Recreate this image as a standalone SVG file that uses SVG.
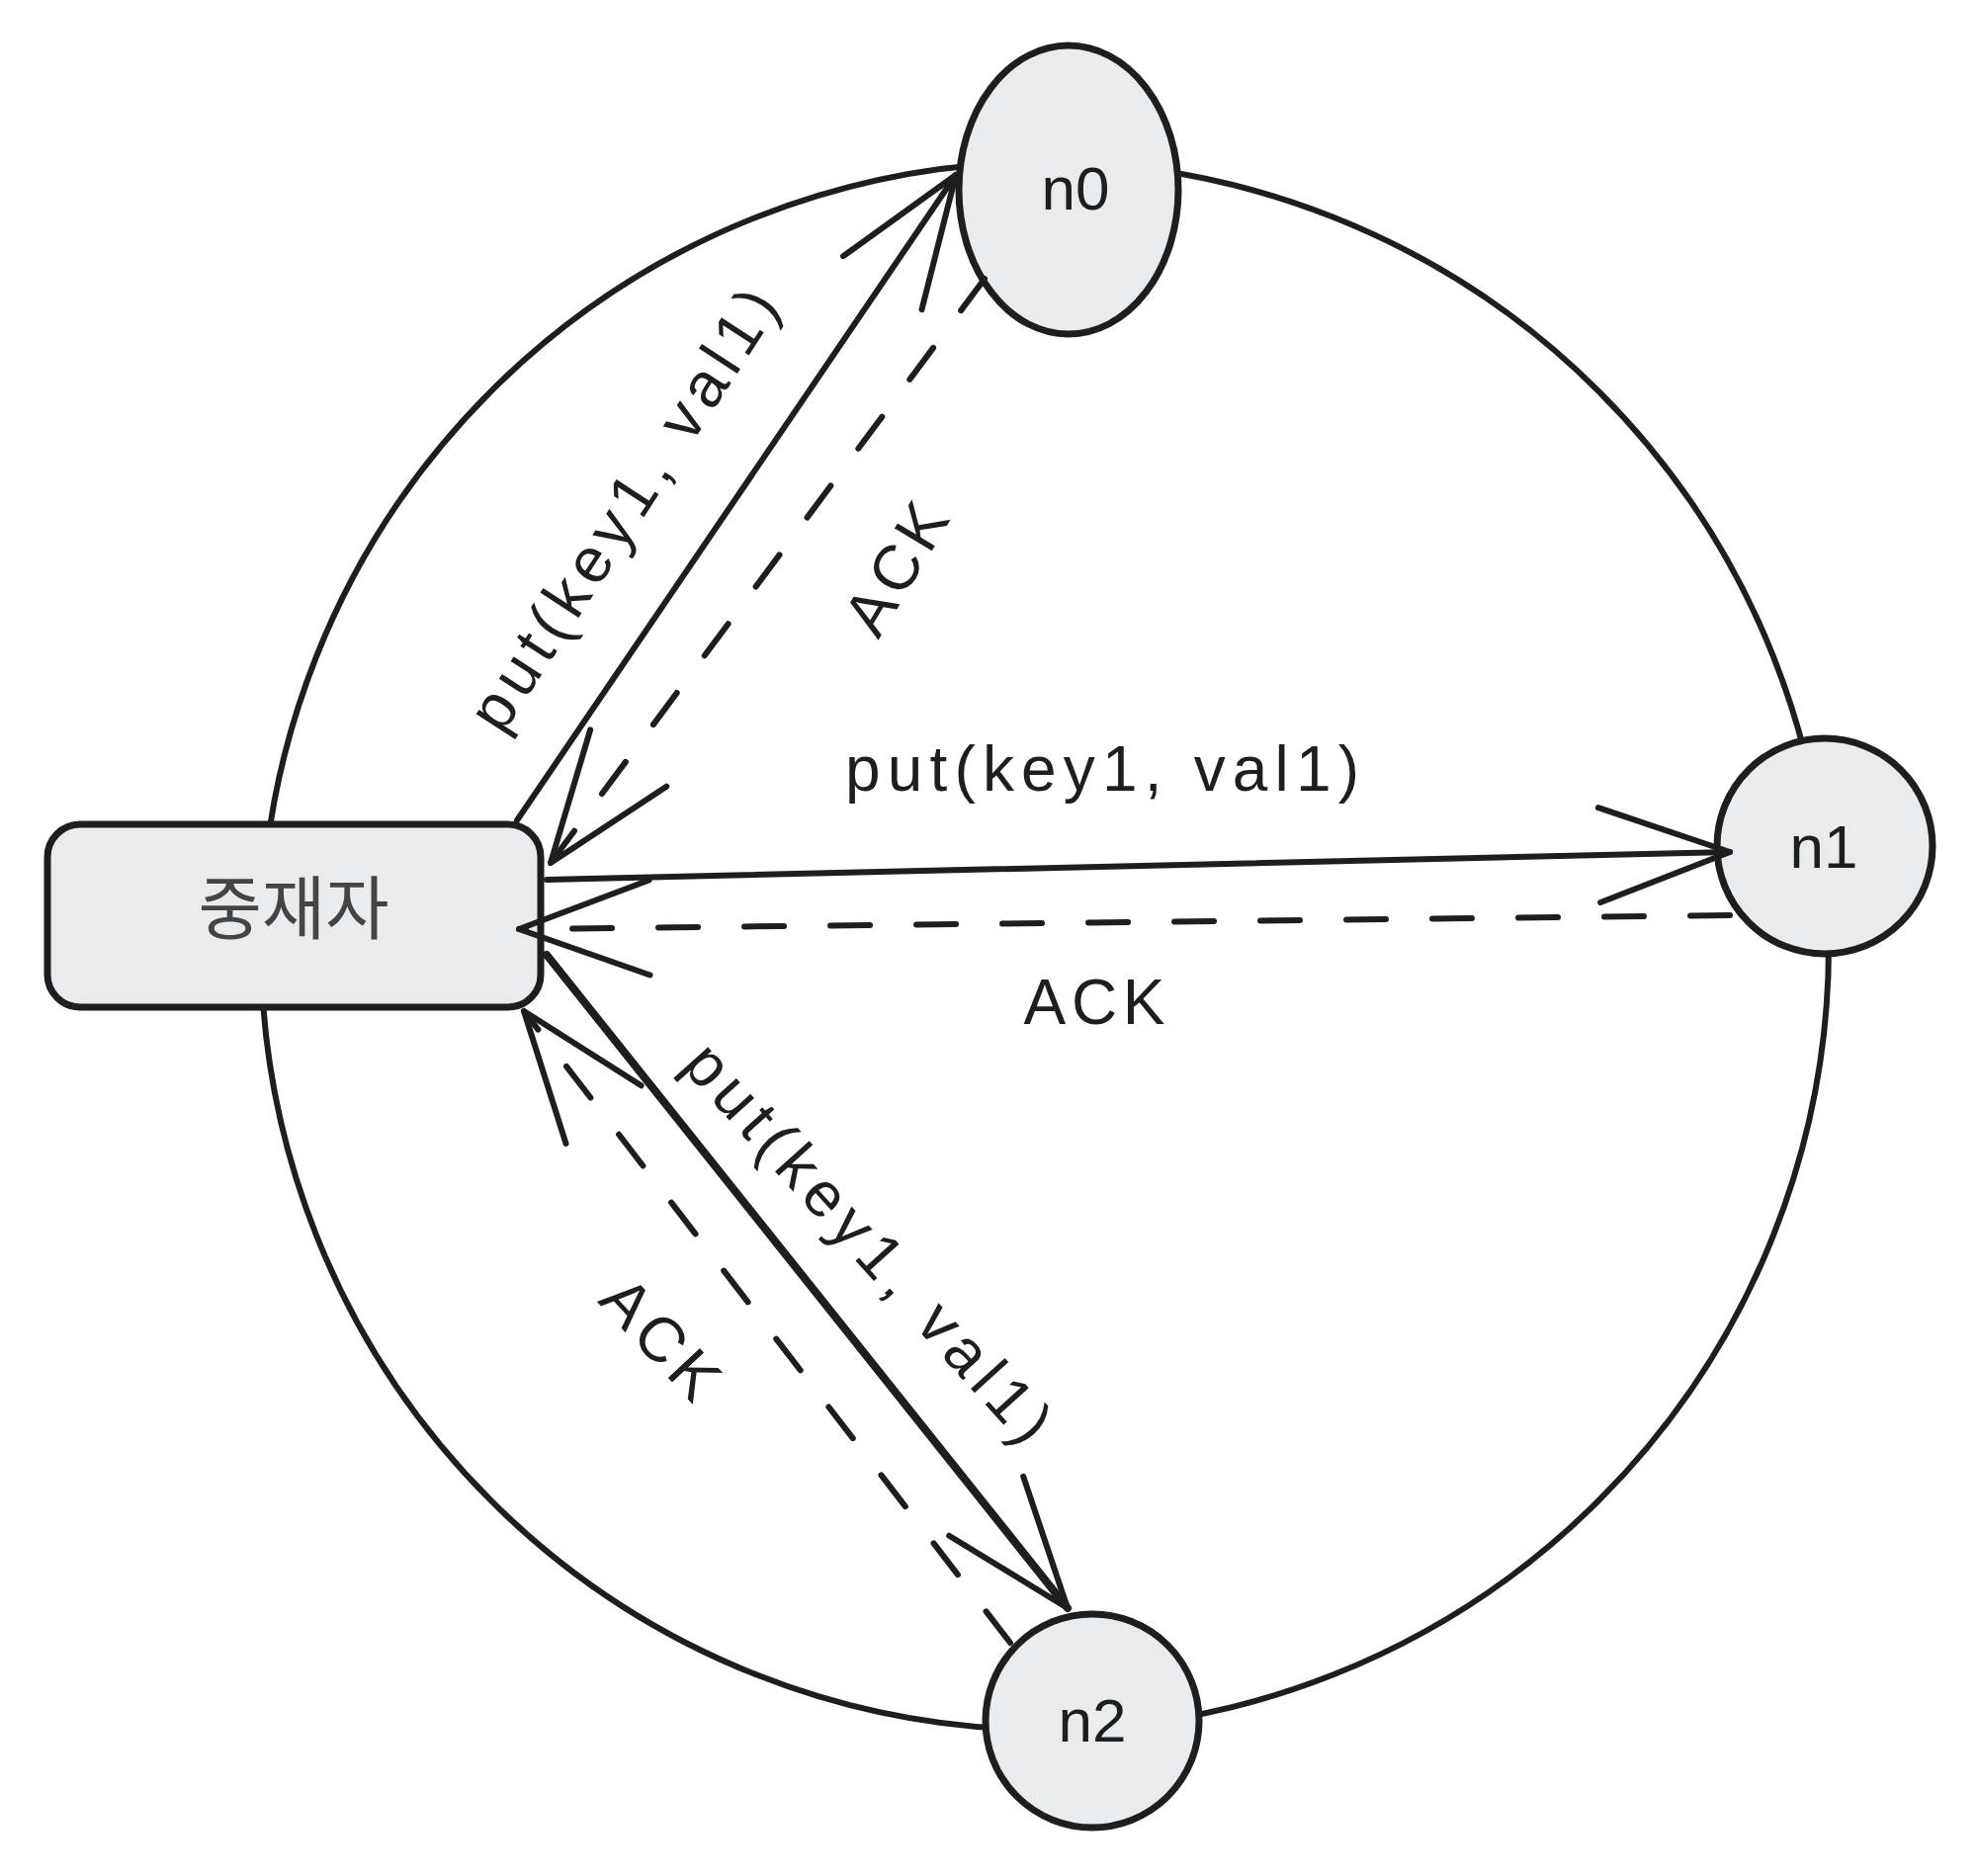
<svg xmlns="http://www.w3.org/2000/svg" width="2000" height="1898" viewBox="0 0 2000 1898">
  <defs>
    <style>
      .ring { fill: none; stroke: #1e1e1e; stroke-width: 6; }
      .node { fill: #e9ecef; stroke: #1e1e1e; stroke-width: 7; }
      .edge { fill: none; stroke: #1e1e1e; stroke-width: 6; stroke-linecap: round; }
      .thick { stroke-width: 8; }
      .dash { stroke-dasharray: 40 47; }
      .lbl { font-family: "Liberation Sans", "Noto Sans", sans-serif; font-size: 64px; fill: #1e1e1e; text-anchor: middle; }
      .nlbl { font-family: "Liberation Sans", "Noto Sans", sans-serif; font-size: 62px; fill: #1e1e1e; text-anchor: middle; }
      .klbl { font-family: "Noto Sans CJK KR", "Noto Sans", sans-serif; font-size: 70px; fill: #444444; text-anchor: middle; }
    </style>
    <marker id="arrow" markerUnits="userSpaceOnUse" viewBox="-150 -60 160 120" markerWidth="160" markerHeight="120" refX="0" refY="0" orient="auto">
      <path d="M -132 -48 L 0 0 L -132 48" fill="none" stroke="#1e1e1e" stroke-width="6" stroke-linecap="round" stroke-linejoin="round" stroke-dasharray="none"/>
    </marker>
  </defs>
  <rect width="2000" height="1898" fill="#ffffff"/>

  <g id="ring">
    <circle class="ring" cx="1057" cy="957" r="793"/>
  </g>

  <g id="node-mediator">
    <rect class="node" x="48" y="834" width="499" height="185" rx="33" ry="33"/>
    <text class="klbl" x="297" y="945">중재자</text>
  </g>
  <g id="node-n0">
    <ellipse class="node" cx="1081" cy="192" rx="111" ry="146"/>
    <text class="nlbl" x="1088" y="212">n0</text>
  </g>
  <g id="node-n1">
    <circle class="node" cx="1846" cy="856" r="109"/>
    <text class="nlbl" x="1845" y="878">n1</text>
  </g>
  <g id="node-n2">
    <circle class="node" cx="1105" cy="1741" r="108"/>
    <text class="nlbl" x="1105" y="1762">n2</text>
  </g>

  <g id="connectors">
    <path class="edge" d="M 523 830 L 967 177" marker-end="url(#arrow)"/>
    <path class="edge dash" d="M 996 282 L 557 873" marker-end="url(#arrow)"/>
    <path class="edge" d="M 553 890 L 1750 862" marker-end="url(#arrow)"/>
    <path class="edge dash" d="M 1750 926 L 525 940" marker-end="url(#arrow)"/>
    <path class="edge thick" d="M 553 966 L 1080 1627" marker-end="url(#arrow)"/>
    <path class="edge dash" d="M 1022 1662 L 530 1023" marker-end="url(#arrow)"/>
  </g>

  <g id="labels">
    <text class="lbl" transform="translate(630 515) rotate(-57)" dy="0.35em" textLength="518" lengthAdjust="spacing">put(key1, val1)</text>
    <text class="lbl" transform="translate(906 575) rotate(-59)" dy="0.35em" textLength="143" lengthAdjust="spacing">ACK</text>
    <text class="lbl" x="1115" y="800" textLength="520" lengthAdjust="spacing">put(key1, val1)</text>
    <text class="lbl" x="1107" y="1036" textLength="143" lengthAdjust="spacing">ACK</text>
    <text class="lbl" transform="translate(879 1257) rotate(48)" dy="0.35em" textLength="520" lengthAdjust="spacing">put(key1, val1)</text>
    <text class="lbl" transform="translate(669 1354) rotate(47)" dy="0.35em" textLength="143" lengthAdjust="spacing">ACK</text>
  </g>
</svg>
